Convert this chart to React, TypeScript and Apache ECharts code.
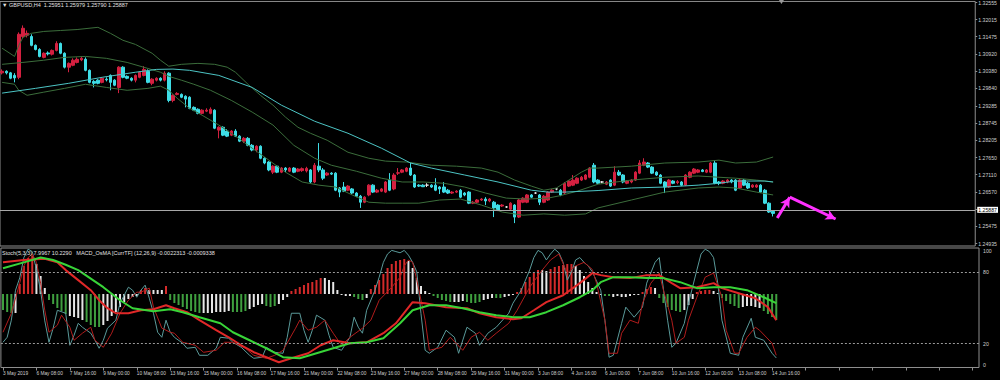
import React, { useEffect, useRef } from "react";
import * as echarts from "echarts";

const FONT = "Liberation Sans, Arial, sans-serif";
const TOTAL_SLOTS = 234;

const chartTitle = "\u25BC GBPUSD,H4  1.25951 1.25979 1.25790 1.25887";
const subTitle = "Stoch(5,3,3) 7.9967 10.2290   MACD_OsMA [CurrTF] (12,26,9) -0.0022313 -0.0009338";

const tickLabels = [
  "3 May 2019", "6 May 08:00", "7 May 16:00", "9 May 00:00", "10 May 08:00", "13 May 16:00",
  "15 May 00:00", "16 May 08:00", "17 May 16:00", "21 May 00:00", "22 May 08:00", "23 May 16:00",
  "27 May 00:00", "28 May 08:00", "29 May 16:00", "31 May 00:00", "3 Jun 08:00", "4 Jun 16:00",
  "6 Jun 00:00", "7 Jun 08:00", "10 Jun 16:00", "12 Jun 00:00", "13 Jun 08:00", "14 Jun 16:00",
];

const priceTicks = [
  1.32555, 1.32015, 1.31475, 1.3092, 1.3038, 1.2984, 1.29285, 1.28745, 1.28205, 1.2765,
  1.2711, 1.2657, 1.26015, 1.25475, 1.24935,
];
const stochLevels = [0, 20, 80, 100];
const lastPrice = 1.25887;
const chartShiftMark = [187, 1.3257];

// [open, close, low, high]
const ohlc = [
  [1.3033, 1.3038, 1.3028, 1.3044], [1.3038, 1.3033, 1.3028, 1.3041], [1.3033, 1.3016, 1.3013, 1.3036], [1.3025, 1.3017, 1.3003, 1.3032],
  [1.3019, 1.3155, 1.3013, 1.3161], [1.3148, 1.3174, 1.3142, 1.3183], [1.3152, 1.3158, 1.3145, 1.3167], [1.3148, 1.312, 1.3117, 1.3155],
  [1.312, 1.3107, 1.3104, 1.3123], [1.3107, 1.3085, 1.3082, 1.3111], [1.3082, 1.3095, 1.3079, 1.3098], [1.3096, 1.3093, 1.3088, 1.3101],
  [1.3092, 1.3104, 1.3088, 1.3107], [1.3104, 1.3126, 1.3101, 1.3133], [1.3126, 1.3095, 1.3092, 1.3129], [1.3095, 1.3051, 1.3047, 1.3098],
  [1.3051, 1.3063, 1.3035, 1.3066], [1.3057, 1.3073, 1.3054, 1.3079], [1.3066, 1.3076, 1.3063, 1.3082], [1.3074, 1.3079, 1.307, 1.3085],
  [1.3076, 1.3041, 1.3038, 1.3082], [1.3041, 1.3003, 1.3, 1.3044], [1.3006, 1.3, 1.2987, 1.301], [1.301, 1.3, 1.2997, 1.3013],
  [1.3003, 1.3016, 1.3, 1.3019], [1.3013, 1.3011, 1.3006, 1.3019], [1.3025, 1.3003, 1.2978, 1.3028], [1.301, 1.2994, 1.2991, 1.3013],
  [1.2987, 1.3051, 1.2969, 1.3054], [1.3051, 1.3019, 1.3016, 1.3054], [1.3022, 1.3016, 1.3013, 1.3025], [1.3016, 1.301, 1.3006, 1.3019],
  [1.301, 1.3025, 1.3003, 1.3028], [1.3019, 1.3035, 1.3016, 1.3038], [1.3025, 1.3044, 1.3022, 1.3054], [1.3038, 1.3003, 1.3, 1.3044],
  [1.3, 1.3013, 1.2994, 1.3016], [1.301, 1.3016, 1.3006, 1.3019], [1.3016, 1.301, 1.3006, 1.3019], [1.301, 1.3032, 1.3006, 1.3038],
  [1.3032, 1.2946, 1.294, 1.3035], [1.2946, 1.2962, 1.294, 1.2965], [1.2965, 1.2968, 1.2962, 1.2972], [1.2965, 1.2956, 1.2953, 1.2968],
  [1.2959, 1.295, 1.2924, 1.2962], [1.2956, 1.2921, 1.2918, 1.2959], [1.2924, 1.2915, 1.2912, 1.2927], [1.2918, 1.2905, 1.2902, 1.2921],
  [1.2905, 1.2915, 1.2902, 1.2918], [1.2912, 1.2915, 1.2909, 1.2921], [1.2905, 1.2918, 1.2902, 1.2924], [1.2915, 1.2858, 1.2855, 1.2918],
  [1.2852, 1.2861, 1.2826, 1.2864], [1.2861, 1.2836, 1.2833, 1.2864], [1.2849, 1.2833, 1.283, 1.2855], [1.2836, 1.2849, 1.2833, 1.2852],
  [1.2849, 1.2833, 1.283, 1.2855], [1.2833, 1.2817, 1.2814, 1.2836], [1.2817, 1.2826, 1.2811, 1.283], [1.2826, 1.2804, 1.2801, 1.283],
  [1.2804, 1.2789, 1.2785, 1.2808], [1.2789, 1.2801, 1.2782, 1.2804], [1.2801, 1.2763, 1.276, 1.2804], [1.2763, 1.2748, 1.2744, 1.2767],
  [1.2751, 1.2726, 1.2722, 1.2754], [1.2719, 1.2738, 1.2713, 1.2741], [1.2738, 1.2719, 1.2716, 1.2741], [1.2719, 1.2732, 1.2716, 1.2735],
  [1.2732, 1.2726, 1.2719, 1.2735], [1.2722, 1.2732, 1.2719, 1.2735], [1.2732, 1.2719, 1.2716, 1.2735], [1.2722, 1.2729, 1.2719, 1.2732],
  [1.2724, 1.273, 1.272, 1.2734], [1.2723, 1.2731, 1.2718, 1.2736], [1.2726, 1.2688, 1.2684, 1.2729], [1.2688, 1.2741, 1.2684, 1.2748],
  [1.2738, 1.2726, 1.2719, 1.2811], [1.2726, 1.27, 1.2694, 1.2732], [1.271, 1.2716, 1.2707, 1.2719], [1.2716, 1.2713, 1.271, 1.2719],
  [1.2716, 1.2662, 1.2659, 1.2719], [1.2669, 1.2656, 1.264, 1.2672], [1.2672, 1.2659, 1.2656, 1.2688], [1.2662, 1.2675, 1.2659, 1.2678],
  [1.2666, 1.2653, 1.265, 1.2669], [1.2653, 1.2643, 1.264, 1.2656], [1.2643, 1.2624, 1.2606, 1.2647], [1.2624, 1.264, 1.2621, 1.2643],
  [1.2647, 1.2678, 1.2643, 1.2681], [1.2678, 1.2656, 1.2653, 1.2681], [1.2656, 1.2662, 1.2653, 1.2666], [1.2659, 1.2666, 1.2656, 1.2669],
  [1.2656, 1.2688, 1.2653, 1.2691], [1.2694, 1.2662, 1.2659, 1.2716], [1.2666, 1.271, 1.2662, 1.2716], [1.2716, 1.2717, 1.271, 1.2732],
  [1.2719, 1.2726, 1.2716, 1.2729], [1.2722, 1.2732, 1.2719, 1.2735], [1.2732, 1.271, 1.2707, 1.2751], [1.271, 1.2672, 1.2669, 1.2713],
  [1.2678, 1.2675, 1.2672, 1.2681], [1.2678, 1.2673, 1.2672, 1.2681], [1.2678, 1.2678, 1.2672, 1.2684], [1.2678, 1.2672, 1.2669, 1.2681],
  [1.2678, 1.2662, 1.2659, 1.27], [1.2672, 1.2666, 1.265, 1.2675], [1.2672, 1.2656, 1.2653, 1.2688], [1.2662, 1.2653, 1.265, 1.2666],
  [1.2653, 1.2656, 1.265, 1.2659], [1.2656, 1.2659, 1.2653, 1.2662], [1.2662, 1.264, 1.2637, 1.2666], [1.2653, 1.2647, 1.2643, 1.2656],
  [1.2656, 1.2621, 1.2618, 1.2659], [1.2621, 1.2624, 1.2618, 1.2628], [1.2624, 1.2631, 1.2621, 1.2634], [1.2631, 1.2634, 1.2628, 1.2637],
  [1.2634, 1.2628, 1.2615, 1.264], [1.2628, 1.2634, 1.2624, 1.2637], [1.2624, 1.2606, 1.2577, 1.2628], [1.2615, 1.2599, 1.2596, 1.2618],
  [1.2612, 1.2615, 1.2609, 1.2618], [1.2609, 1.2609, 1.2606, 1.2612], [1.2602, 1.2621, 1.2599, 1.2624], [1.2615, 1.2577, 1.2558, 1.2618],
  [1.2577, 1.2631, 1.2574, 1.2634], [1.2624, 1.2637, 1.2621, 1.264], [1.2624, 1.2647, 1.2621, 1.265], [1.2647, 1.264, 1.2637, 1.265],
  [1.2653, 1.2653, 1.265, 1.2656], [1.2647, 1.2624, 1.2615, 1.265], [1.2624, 1.2643, 1.2621, 1.2647], [1.2631, 1.2656, 1.2628, 1.2659],
  [1.2656, 1.2662, 1.2653, 1.2666], [1.2666, 1.2666, 1.2662, 1.2669], [1.2662, 1.2647, 1.2643, 1.2666], [1.2653, 1.2684, 1.265, 1.2688],
  [1.2675, 1.2691, 1.2672, 1.2694], [1.2678, 1.2694, 1.2675, 1.271], [1.2684, 1.27, 1.2681, 1.2703], [1.2694, 1.2703, 1.2691, 1.2707],
  [1.2697, 1.271, 1.2694, 1.2713], [1.2703, 1.2732, 1.27, 1.2735], [1.2741, 1.2688, 1.2684, 1.2748], [1.2694, 1.2684, 1.2681, 1.2697],
  [1.2688, 1.2688, 1.2684, 1.2691], [1.2681, 1.2688, 1.2678, 1.2691], [1.2694, 1.2675, 1.2672, 1.2697], [1.2678, 1.2719, 1.2675, 1.2738],
  [1.2719, 1.271, 1.2707, 1.2726], [1.271, 1.2688, 1.2684, 1.2713], [1.2684, 1.2691, 1.2681, 1.2694], [1.2688, 1.2694, 1.2684, 1.2697],
  [1.2694, 1.2719, 1.2691, 1.2722], [1.2716, 1.2748, 1.2713, 1.2757], [1.2741, 1.2751, 1.2738, 1.2763], [1.2748, 1.2735, 1.2732, 1.2751],
  [1.2735, 1.2716, 1.2713, 1.2738], [1.2719, 1.271, 1.2707, 1.2722], [1.271, 1.2684, 1.2681, 1.2713], [1.2688, 1.2672, 1.2653, 1.2691],
  [1.2672, 1.2694, 1.2669, 1.2697], [1.2691, 1.2684, 1.2681, 1.2694], [1.2686, 1.2689, 1.2681, 1.2694], [1.2688, 1.2678, 1.2675, 1.2691],
  [1.2678, 1.271, 1.2675, 1.2713], [1.2703, 1.2719, 1.27, 1.2722], [1.2716, 1.2729, 1.2713, 1.2732], [1.2719, 1.2726, 1.2716, 1.2729],
  [1.2726, 1.2721, 1.2719, 1.2729], [1.2719, 1.2726, 1.2716, 1.2729], [1.2719, 1.2748, 1.2716, 1.2751], [1.2748, 1.2684, 1.2681, 1.2757],
  [1.2688, 1.2684, 1.2678, 1.2691], [1.2684, 1.2691, 1.2681, 1.2694], [1.2688, 1.2694, 1.2684, 1.2697], [1.2694, 1.2688, 1.2684, 1.2697],
  [1.2694, 1.2662, 1.2659, 1.2697], [1.2669, 1.2694, 1.2666, 1.2697], [1.2694, 1.2678, 1.2675, 1.2697], [1.2684, 1.2669, 1.2666, 1.2688],
  [1.2672, 1.2678, 1.2669, 1.2681], [1.2672, 1.2678, 1.2669, 1.2681], [1.2678, 1.2656, 1.2653, 1.2681], [1.2662, 1.2621, 1.2618, 1.2666],
  [1.2621, 1.2593, 1.259, 1.2624], [1.25951, 1.25887, 1.2579, 1.25979],
];

// [bar index, price]
const slowMA = [
  [0, 1.2969], [8, 1.2984], [16, 1.3], [24, 1.3019], [32, 1.3035], [37, 1.3044], [41, 1.3045], [45, 1.3041],
  [52, 1.3025], [60, 1.2987], [67, 1.2931], [75, 1.288], [83, 1.2842], [91, 1.2795], [98, 1.2748], [103, 1.2732],
  [111, 1.271], [119, 1.2688], [127, 1.2662], [131, 1.2656], [135, 1.2656], [143, 1.2661], [151, 1.2669], [159, 1.2672],
  [167, 1.2678], [172, 1.2684], [176, 1.2691], [183, 1.2691], [185, 1.2688],
];
const bbUpper = [
  [0, 1.3111], [3, 1.3085], [4, 1.312], [5, 1.3145], [7, 1.3158], [10, 1.3164], [14, 1.3167], [18, 1.317], [23, 1.3177],
  [26, 1.3158], [29, 1.3136], [32, 1.3123], [36, 1.3095], [38, 1.3073], [40, 1.3054], [43, 1.306], [47, 1.3063], [51, 1.306],
  [54, 1.3051], [56, 1.3035], [59, 1.2997], [62, 1.2962], [65, 1.2931], [68, 1.2893], [71, 1.2861], [74, 1.2842], [78, 1.282],
  [83, 1.2782], [88, 1.2763], [92, 1.2754], [97, 1.2751], [103, 1.2741], [109, 1.2738], [115, 1.2732], [119, 1.2719], [123, 1.2694],
  [127, 1.2675], [130, 1.2662], [133, 1.2669], [136, 1.2694], [139, 1.2719], [141, 1.2732], [143, 1.2732], [151, 1.2738],
  [159, 1.2748], [167, 1.2751], [172, 1.2757], [176, 1.2748], [181, 1.2751], [185, 1.2767],
];
const bbMiddle = [
  [0, 1.306], [5, 1.3066], [10, 1.3073], [15, 1.3082], [20, 1.3085], [25, 1.3079], [30, 1.3066], [35, 1.3047], [38, 1.3035],
  [40, 1.3022], [43, 1.301], [46, 1.2997], [50, 1.2978], [55, 1.2946], [60, 1.2909], [65, 1.2868], [70, 1.2804], [75, 1.2763],
  [79, 1.2741], [85, 1.2722], [91, 1.27], [96, 1.2688], [101, 1.2688], [106, 1.2684], [111, 1.2672], [116, 1.2653], [121, 1.2637],
  [126, 1.2634], [131, 1.2637], [134, 1.2645], [138, 1.2659], [143, 1.2681], [151, 1.2694], [159, 1.2703], [167, 1.2707],
  [172, 1.2703], [176, 1.27], [181, 1.2694], [185, 1.2688],
];
const bbLower = [
  [0, 1.3003], [3, 1.2997], [4, 1.2978], [6, 1.2962], [10, 1.2972], [15, 1.2984], [20, 1.2997], [25, 1.2987], [30, 1.2978],
  [35, 1.2984], [38, 1.2991], [40, 1.2978], [42, 1.2953], [45, 1.2921], [48, 1.2899], [52, 1.2868], [56, 1.2833], [60, 1.2795],
  [64, 1.2757], [68, 1.2719], [72, 1.2688], [76, 1.2678], [80, 1.2672], [84, 1.2647], [88, 1.2624], [92, 1.2621], [96, 1.2621],
  [100, 1.2621], [105, 1.2631], [110, 1.2634], [115, 1.2615], [120, 1.2593], [125, 1.2583], [130, 1.2587], [135, 1.2583],
  [140, 1.2587], [143, 1.2606], [151, 1.2631], [159, 1.2656], [167, 1.2669], [172, 1.2672], [176, 1.2669], [181, 1.2656], [185, 1.2647],
];

// forecast arrows drawn on the chart: [bar index, price]
const forecastPath = [[186, 1.2574], [189, 1.264], [200, 1.2571]];

// MACD OsMA histogram, one value per bar, with its colour code (r = red, g = green, w = white)
const osma = [
  -0.0016, -0.0018, -0.0019, -0.0019, 0.001, 0.0028, 0.0036, 0.0038, 0.003, 0.0018,
  0.0006, -0.0006, -0.001, -0.0014, -0.0017, -0.002, -0.0022, -0.0023, -0.0024, -0.0026,
  -0.0028, -0.0031, -0.0033, -0.0033, -0.0031, -0.0027, -0.0022, -0.0018, -0.0013, -0.0008,
  -0.0005, -0.0003, -0.0002, 0.0004, 0.0006, 0.0004, 0.0004, 0.0004, 0.0004, 0.0008,
  -0.0006, -0.0009, -0.0011, -0.0013, -0.0015, -0.0017, -0.0018, -0.0019, -0.0019, -0.0019,
  -0.0019, -0.0018, -0.0018, -0.0018, -0.0017, -0.0018, -0.0018, -0.0018, -0.0017, -0.0015,
  -0.0013, -0.0011, -0.001, -0.0012, -0.0013, -0.0012, -0.001, -0.0006, -0.0003, 0.0003,
  0.0005, 0.0007, 0.0009, 0.0011, 0.0012, 0.0014, 0.0016, 0.0016, 0.0014, 0.0012,
  0.0004, -0.0001, -0.0002, -0.0002, -0.0003, -0.0005, -0.0006, -0.0004, 0.0005, 0.0009,
  0.0014, 0.002, 0.0026, 0.003, 0.0033, 0.0034, 0.0035, 0.0033, 0.0026, 0.0016,
  0.0008, 0.0003, 0.0001, -0.0002, -0.0004, -0.0006, -0.0007, -0.0008, -0.0008, -0.0008,
  -0.0007, -0.0008, -0.0009, -0.0009, -0.0008, -0.0006, -0.0005, -0.0004, -0.0004, -0.0004,
  -0.0003, -0.0002, -0.0001, 0.0002, 0.0006, 0.0012, 0.0017, 0.0021, 0.0024, 0.0024,
  0.0023, 0.0025, 0.0027, 0.0028, 0.0029, 0.003, 0.003, 0.0028, 0.0024, 0.0018,
  0.0012, 0.0006, 0.0002, -0.0001, -0.0002, -0.0002, -0.0003, -0.0002, -0.0003, -0.0003,
  -0.0002, -0.0001, -0.0001, 0.0002, 0.0005, 0.0007, 0.0006, -0.0004, -0.0009, -0.0013,
  -0.0016, -0.0017, -0.0018, -0.0016, -0.0011, -0.0005, 0.0002, 0.0003, 0.0004, 0.0004,
  0.0003, 0.0001, -0.0004, -0.0007, -0.001, -0.0012, -0.0014, -0.0013, -0.0012, -0.0012,
  -0.0013, -0.0014, -0.0017, -0.002, -0.0023, -0.0026,
];
const osmaColorCodes =
  "gggwrrrrww" + "wgggggwwww" + "ggggwwwwww" + "wwwrrwwwwr" + "ggggggggww" +
  "wwwwwggggw" + "wwwgggwwwr" + "rrrrrrrwww" + "wwwwgggwrr" + "rrrrrrrwww" +
  "wwwgggggww" + "wggggwwwgg" + "wwwrrrrrrw" + "wrrrrrrwww" + "wwwwggwwww" +
  "wwwrrrwggg" + "gggwwwrrrr" + "wwgggggwww" + "wwgggg";

// Stochastic %K and %D: [bar index, value]
const stochMain = [
  [0, 21.1], [1, 25.3], [2, 39.6], [3, 64.7], [4, 75], [5, 92], [6, 99], [7, 97], [8, 82], [9, 64], [10, 39], [11, 21.1],
  [12, 32.9], [13, 47.9], [15, 45.4], [16, 18.6], [17, 27], [18, 37], [19, 33.7], [21, 28.7], [22, 22.8], [23, 16.1],
  [24, 22.8], [25, 32.9], [27, 39.6], [28, 53.8], [30, 67.2], [31, 64.7], [32, 58.8], [33, 64.7], [34, 68.9], [35, 58],
  [36, 45.4], [37, 29.5], [38, 25.3], [39, 39.6], [40, 29.5], [41, 25.3], [43, 20.3], [44, 16.1], [46, 16.9], [47, 10.2],
  [49, 10.2], [51, 16.1], [52, 25.3], [54, 24.5], [55, 21.1], [57, 16.9], [59, 10.2], [60, 7.7], [62, 8.6], [63, 16.9],
  [65, 12.7], [67, 11.9], [68, 25.3], [69, 45.4], [71, 45.4], [72, 31.2], [73, 21.1], [74, 31.2], [75, 43.8], [77, 39.6],
  [78, 27], [79, 16.9], [81, 14.4], [83, 25.3], [84, 42.1], [85, 33.7], [86, 28.7], [87, 47.9], [89, 64.7], [90, 75.6],
  [91, 88], [92, 95], [93, 98], [94, 97], [95, 96], [96, 98], [97, 94], [98, 88], [99, 80], [100, 45], [101, 14.4],
  [102, 11.9], [104, 16.9], [106, 31.2], [108, 25.3], [109, 11.9], [111, 33.7], [113, 28.7], [114, 18.6], [116, 28.7],
  [118, 33.7], [121, 45.4], [122, 53.8], [124, 64.7], [126, 81.5], [127, 92], [128, 98], [129, 96], [130, 90], [131, 95],
  [132, 99], [133, 96], [134, 88], [135, 73.1], [136, 80], [137, 90], [138, 92], [139, 88], [140, 85], [141, 80],
  [143, 64.7], [144, 39.6], [145, 8.6], [146, 10.2], [148, 37], [149, 50.5], [151, 42.1], [153, 50.5], [154, 70.6],
  [156, 88], [157, 92], [159, 39.6], [160, 16.9], [161, 20.3], [163, 37], [164, 53.8], [166, 81.5], [167, 95], [168, 99],
  [169, 97], [170, 92], [171, 70.6], [172, 39.6], [174, 11.9], [176, 10.2], [177, 25.3], [179, 41.2], [180, 25.3],
  [182, 22.8], [184, 11.9], [185, 7.9967],
];
const stochSignal = [
  [0, 29.5], [2, 45.4], [4, 70.6], [5, 85], [6, 92], [7, 95], [8, 88], [9, 70.6], [10, 47.9], [11, 29.5], [13, 35.4],
  [14, 43.8], [16, 33.7], [17, 22.8], [19, 28.7], [21, 33.7], [22, 22.8], [24, 16.9], [26, 28.7], [28, 45.4], [30, 56.3],
  [32, 63], [33, 63], [35, 66.4], [36, 50.5], [38, 32.9], [40, 29.5], [41, 28.7], [43, 21.1], [46, 18.6], [48, 12.7],
  [51, 14.4], [53, 21.1], [55, 21.1], [58, 16.1], [60, 10.2], [63, 7.7], [65, 10.2], [67, 14.4], [70, 32.9], [71, 39.6],
  [73, 31.2], [75, 33.7], [77, 39.6], [79, 28.7], [81, 18.6], [83, 25.3], [86, 32.9], [88, 39.6], [90, 56.3], [93, 67.2],
  [95, 75.6], [96, 85], [97, 90], [98, 88], [99, 73.1], [101, 39.6], [102, 14.4], [105, 16.9], [107, 25.3], [110, 14.4],
  [112, 25.3], [114, 29.5], [116, 22.8], [118, 28.7], [121, 37], [123, 47.9], [126, 67.2], [129, 81.5], [131, 90],
  [133, 95], [135, 79], [137, 85], [139, 88], [141, 82], [142, 70.6], [144, 39.6], [145, 11.9], [147, 11.9], [148, 28.7],
  [150, 39.6], [152, 37], [153, 53.8], [155, 70.6], [157, 79], [158, 64.7], [160, 39.6], [161, 20.3], [163, 25.3],
  [164, 39.6], [166, 58.8], [168, 75.6], [170, 79], [172, 58.8], [173, 31.2], [175, 11.9], [176, 11.9], [178, 25.3],
  [180, 33.7], [181, 31.2], [184, 20.3], [185, 10.229],
];
// thick slow lines of the lower window: [bar index, value]
const slowRed = [
  [0, 88], [5, 90], [10, 91], [13, 88], [15, 81.5], [18, 73.1], [21, 64.7], [23, 56.3], [25, 49.6], [27, 45.4], [30, 45.4],
  [33, 47.9], [36, 48.8], [39, 52.1], [41, 49.6], [44, 46.3], [47, 39.6], [51, 31.2], [54, 25.3], [57, 18.6], [60, 12.8],
  [63, 8.6], [66, 4.4], [69, 7.7], [73, 11.9], [76, 18.6], [79, 22.8], [83, 20.3], [87, 21.1], [91, 28.7], [94, 37],
  [98, 54.7], [101, 53.8], [106, 50.5], [111, 49.6], [114, 45.4], [118, 42.1], [122, 40.4], [124, 41.2], [127, 47.9],
  [130, 54.7], [134, 60.5], [138, 70.6], [141, 79], [143, 77.3], [146, 75.6], [150, 74.8], [154, 77.3], [157, 77.3],
  [160, 70.6], [162, 66.4], [166, 67.2], [170, 70.6], [172, 66.4], [176, 62.2], [180, 58], [183, 50.5], [185, 39.6],
];
const slowGreen = [
  [0, 83], [5, 88], [9, 92], [12, 90], [15, 86], [18, 81.5], [24, 67.2], [28, 56.3], [31, 49.6], [36, 47.1], [40, 48.8],
  [43, 46.3], [47, 42.1], [52, 37], [55, 29.5], [59, 22.8], [63, 16.1], [67, 8.6], [71, 7.7], [75, 11.9], [79, 16.1],
  [83, 20.3], [87, 21.1], [91, 24.5], [95, 37], [98, 47.9], [102, 52.1], [106, 52.1], [110, 49.6], [114, 46.3], [118, 43.8],
  [122, 42.1], [126, 42.1], [130, 46.3], [134, 52.1], [138, 58.8], [141, 64.7], [143, 71.4], [146, 75.6], [150, 75.6],
  [154, 74.8], [158, 74.8], [162, 71.4], [166, 66.4], [170, 67.2], [174, 67.2], [178, 64.7], [182, 58.8], [185, 53.8],
];

const UP = "#d42040";
const DOWN = "#3fdde6";
const DOJI = "#e8e8e8";
const GRID_LINE = "#8e8e8e";
const TEXT = "#cfcfcf";
const histPalette: Record<string, string> = { r: "#d42a2a", g: "#3f9f3f", w: "#e6e6e6" };

const categories = Array.from({ length: TOTAL_SLOTS }, (_, i) => String(i));

export default function App() {
  const ref = useRef<HTMLDivElement>(null);

  useEffect(() => {
    document.body.style.margin = "0";
    document.body.style.background = "#000";
    if (!ref.current) return;
    const chart = echarts.init(ref.current, undefined, { renderer: "svg" });

    const lineCommon = { type: "line", showSymbol: false, symbol: "none", silent: true };

    const option: any = {
      animation: false,
      backgroundColor: "#000000",
      title: [
        { text: chartTitle, left: 2, top: 2, padding: 0, textStyle: { color: "#e0e0e0", fontSize: 5.5, fontWeight: "normal", fontFamily: FONT } },
        { text: subTitle, left: 2, top: 250, padding: 0, textStyle: { color: "#e0e0e0", fontSize: 5.5, fontWeight: "normal", fontFamily: FONT } },
      ],
      grid: [
        { left: -1, right: 21, top: 1, height: 245, show: true, borderColor: GRID_LINE, borderWidth: 1 },
        { left: -1, right: 21, top: 248, height: 119.5, show: true, borderColor: GRID_LINE, borderWidth: 1 },
      ],
      xAxis: [
        { type: "category", gridIndex: 0, data: categories, boundaryGap: true, show: false },
        {
          type: "category", gridIndex: 1, data: categories, boundaryGap: true,
          axisLine: { show: false },
          axisTick: { show: true, interval: 7, alignWithLabel: true, length: 3, lineStyle: { color: GRID_LINE } },
          axisLabel: {
            interval: 7, align: "left", margin: 3, color: TEXT, fontSize: 4.8, fontFamily: FONT,
            formatter: (_v: string, idx: number) => {
              if (idx % 8 !== 0) return "";
              const k = idx / 8;
              return k < tickLabels.length ? tickLabels[k] : "";
            },
          },
          splitLine: { show: false },
        },
      ],
      yAxis: [
        {
          type: "value", gridIndex: 0, position: "right", min: 1.24856, max: 1.32588,
          splitLine: { show: false }, axisLine: { show: false },
          axisTick: { show: true, length: 2, customValues: priceTicks, lineStyle: { color: GRID_LINE } },
          axisLabel: { customValues: priceTicks, formatter: (v: number) => v.toFixed(5), color: TEXT, fontSize: 5.2, fontFamily: FONT, margin: 3 },
        },
        {
          type: "value", gridIndex: 1, position: "right", min: 0, max: 100,
          splitLine: { show: false }, axisLine: { show: false },
          axisTick: { show: false },
          axisLabel: {
            customValues: stochLevels, color: TEXT, fontSize: 5.2, fontFamily: FONT, margin: 4,
            formatter: (v: number) => (v === 100 ? "{t|100}" : v === 0 ? "{b|0}" : String(v)),
            rich: { t: { padding: [5, 0, 0, 0], fontSize: 5.2, color: TEXT }, b: { padding: [0, 0, 6, 0], fontSize: 5.2, color: TEXT } },
          },
        },
        { type: "value", gridIndex: 1, min: -0.00735, max: 0.0046, show: false },
      ],
      series: [
        {
          type: "bar", xAxisIndex: 1, yAxisIndex: 2, barWidth: 2, silent: true,
          data: osma.map((v, i) => ({ value: v, itemStyle: { color: histPalette[osmaColorCodes[i]] } })),
        },
        {
          type: "candlestick", xAxisIndex: 0, yAxisIndex: 0, data: ohlc, barWidth: 3, silent: true,
          itemStyle: { color: UP, color0: DOWN, borderColor: UP, borderColor0: DOWN, borderColorDoji: DOJI, borderWidth: 1 },
          markLine: {
            silent: true, symbol: ["none", "none"], animation: false,
            lineStyle: { color: "#a8a8a8", type: "solid", width: 1 },
            label: {
              show: true, position: "end", distance: 2, formatter: lastPrice.toFixed(5),
              backgroundColor: "#ffffff", color: "#000000", fontSize: 5.2, fontFamily: FONT, padding: [1, 1, 0, 1],
            },
            data: [{ yAxis: lastPrice }],
          },
          markPoint: {
            silent: true, animation: false, symbol: "triangle", symbolSize: [5, 4], symbolRotate: 180,
            itemStyle: { color: "#9a9a9a" }, label: { show: false },
            data: [{ coord: chartShiftMark }],
          },
        },
        { ...lineCommon, xAxisIndex: 0, yAxisIndex: 0, data: bbUpper, lineStyle: { color: "#3b6d3b", width: 1 } },
        { ...lineCommon, xAxisIndex: 0, yAxisIndex: 0, data: bbMiddle, lineStyle: { color: "#3b6d3b", width: 1 } },
        { ...lineCommon, xAxisIndex: 0, yAxisIndex: 0, data: bbLower, lineStyle: { color: "#3b6d3b", width: 1 } },
        {
          ...lineCommon, xAxisIndex: 0, yAxisIndex: 0, data: slowMA, lineStyle: { color: "#4cc4c4", width: 1 },
          markLine: {
            silent: true, animation: false, symbol: ["none", "arrow"], symbolSize: [8, 10],
            lineStyle: { color: "#ff30ff", type: "solid", width: 3 },
            label: { show: false },
            data: [
              [{ coord: forecastPath[0] }, { coord: forecastPath[1] }],
              [{ coord: forecastPath[1] }, { coord: forecastPath[2] }],
            ],
          },
        },
        {
          ...lineCommon, xAxisIndex: 1, yAxisIndex: 1, data: stochMain, lineStyle: { color: "#5a9a9a", width: 1 },
          markLine: {
            silent: true, animation: false, symbol: ["none", "none"], label: { show: false },
            lineStyle: { color: "#9a9a9a", type: [2, 2], width: 1 },
            data: [{ yAxis: 20 }, { yAxis: 80 }],
          },
        },
        { ...lineCommon, xAxisIndex: 1, yAxisIndex: 1, data: stochSignal, lineStyle: { color: "#b01c1c", width: 1 } },
        { ...lineCommon, xAxisIndex: 1, yAxisIndex: 1, data: slowRed, lineStyle: { color: "#e02828", width: 2 } },
        { ...lineCommon, xAxisIndex: 1, yAxisIndex: 1, data: slowGreen, lineStyle: { color: "#38d438", width: 2 } },
      ],
    };

    chart.setOption(option);
    return () => chart.dispose();
  }, []);

  return (
    <div
      ref={ref}
      style={{ position: "fixed", left: 0, top: 0, width: 1000, height: 380, background: "#000" }}
    />
  );
}
